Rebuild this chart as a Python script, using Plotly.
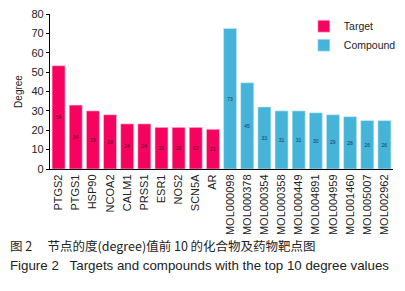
import plotly.graph_objects as go

targets = ["PTGS2", "PTGS1", "HSP90", "NCOA2", "CALM1", "PRSS1", "ESR1", "NOS2", "SCN5A", "AR"]
target_heights = [53.3, 33, 30, 28, 23.3, 23.3, 21.5, 21.5, 21.5, 20.5]
target_labels = ["54", "34", "33", "28", "24", "24", "22", "22", "22", "21"]

compounds = ["MOL000098", "MOL000378", "MOL000354", "MOL000358", "MOL000449",
             "MOL004891", "MOL004959", "MOL001460", "MOL005007", "MOL002962"]
compound_heights = [72.5, 44.5, 32, 30, 30, 29, 28, 27, 25, 25]
compound_labels = ["73", "45", "33", "31", "31", "30", "29", "28", "26", "26"]

y_ticks = [0, 10, 20, 30, 40, 50, 60, 70, 80]

pink = "#F5035E"
blue = "#45B4D8"
font = "Liberation Sans, Arial, sans-serif"

# page body has an 8px margin: figure occupies page x 8..405, y 8..291
fig = go.Figure()
fig.add_trace(go.Bar(
    x=targets, y=target_heights, name="Target", marker=dict(color=pink, line=dict(color="#ffd0e0", width=0.6)),
    text=target_labels, textposition="inside", insidetextanchor="middle",
    textfont=dict(size=5, color="#5a0020", family=font), textangle=0,
))
fig.add_trace(go.Bar(
    x=compounds, y=compound_heights, name="Compound", marker=dict(color=blue, line=dict(color="#c8ecf8", width=0.6)),
    text=compound_labels, textposition="inside", insidetextanchor="middle",
    textfont=dict(size=5, color="#0e3a5a", family=font), textangle=0,
))

fig.update_layout(
    width=397, height=283,
    margin=dict(l=42, r=12, t=6, b=122, autoexpand=False),
    paper_bgcolor="white", plot_bgcolor="white",
    bargap=0.24, barmode="overlay",
    font=dict(family=font, size=11, color="#222"),
    uniformtext=dict(minsize=5, mode="show"),
    legend=dict(x=0.74, y=1.015, xanchor="left", yanchor="top", bgcolor="rgba(0,0,0,0)",
                font=dict(size=10.5, color="#222"), itemwidth=30, tracegroupgap=0),
    showlegend=True,
)
fig.update_xaxes(
    categoryorder="array", categoryarray=targets + compounds, automargin=False,
    range=[-0.5, 19.5], tickangle=-90, showline=True, linecolor="black", linewidth=1.2,
    ticks="", showgrid=False, tickfont=dict(size=11, color="#222"), ticklabeloverflow="allow",
)
fig.update_yaxes(
    range=[0, 80], tickvals=y_ticks, showline=True, linecolor="black", linewidth=1.2, automargin=False,
    ticks="outside", ticklen=3, tickcolor="black", showgrid=False, zeroline=False,
    tickfont=dict(size=11, color="#222"), ticklabeloverflow="allow",
    title=dict(text="Degree", font=dict(size=10, color="#222"), standoff=6),
)

plot_h = 155
plot_w = 343
fig.add_annotation(
    x=(8 - 50) / plot_w, y=(169 - 245) / plot_h, xref="paper", yref="paper",
    xanchor="left", yanchor="middle",
    text="图 2　 节点的度(degree)值前 10 的化合物及药物靶点图",
    showarrow=False, font=dict(size=12.5, color="#222", family="Noto Sans CJK SC, " + font),
)
fig.add_annotation(
    x=(8 - 50) / plot_w, y=(169 - 265) / plot_h, xref="paper", yref="paper",
    xanchor="left", yanchor="middle",
    text="Figure 2   Targets and compounds with the top 10 degree values",
    showarrow=False, font=dict(size=13.3, color="#222", family=font),
)

fig.write_html("out.html")
